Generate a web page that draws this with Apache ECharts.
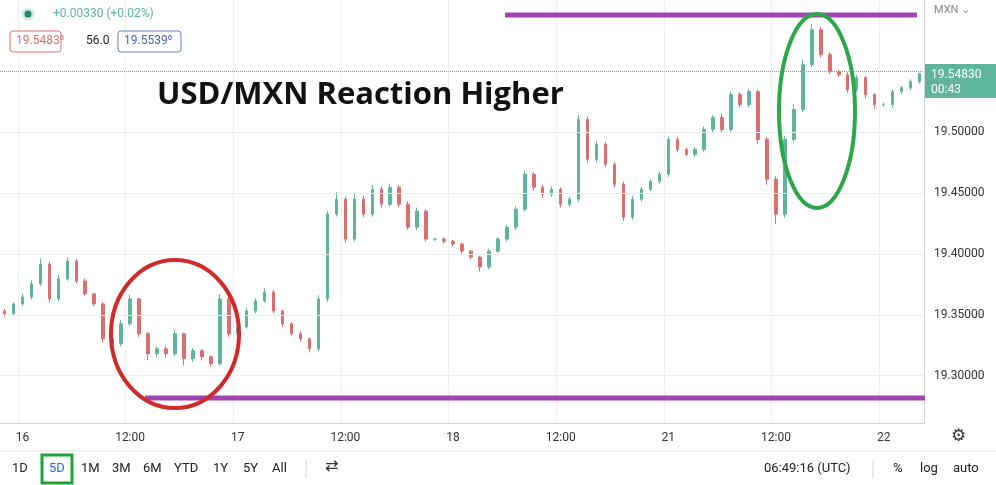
<!DOCTYPE html>
<html>
<head>
<meta charset="utf-8">
<title>USD/MXN</title>
<script src="https://cdn.jsdelivr.net/npm/echarts@6/dist/echarts.min.js"></script>
<style>
html,body{margin:0;padding:0;background:#fff;}
#main{width:996px;height:485px;}
</style>
</head>
<body>
<div id="main"></div>
<script>
// hourly candles, 15 22:00 -> 22 05:00
var closes = [19.3508,19.3590,19.3647,19.3754,19.3918,19.3631,19.3795,19.3942,19.3778,19.3672,
  19.3590,19.3303,19.3262,19.3426,19.3631,19.3344,19.3180,19.3221,19.3180,19.3344,
  19.3139,19.3204,19.3155,19.3098,19.3631,19.3344,19.3401,19.3532,19.3614,19.3688,
  19.3532,19.3426,19.3344,19.3303,19.3221,19.3631,19.4328,19.4451,19.4123,19.4451,
  19.4328,19.4533,19.4410,19.4549,19.4410,19.4221,19.4352,19.4123,19.4123,19.4106,
  19.4082,19.4024,19.3975,19.3893,19.4024,19.4123,19.4221,19.4369,19.4656,19.4549,
  19.4492,19.4533,19.4410,19.4451,19.5107,19.4779,19.4902,19.4738,19.4574,19.4303,
  19.4451,19.4533,19.4598,19.4656,19.4943,19.4861,19.4820,19.4861,19.5025,19.5123,
  19.5025,19.5312,19.5230,19.5336,19.4943,19.4615,19.4328,19.4943,19.5189,19.5558,
  19.5845,19.5640,19.5500,19.5476,19.5353,19.5451,19.5312,19.5230,19.5230,19.5336,
  19.5369,19.5418,19.5483];
// wick sizes in pips above / below the body
var wickUp = [20,15,25,30,40,20,35,30,15,20, 10,15,20,30,35,10,15,20,25,30, 10,20,15,10,40,15,20,25,20,30,
  15,10,15,20,10,30,25,60,20,45, 30,35,25,30,20,25,30,15,10,15, 10,15,10,10,20,15,20,25,30,20,
  20,25,15,20,35,25,30,20,15,20, 25,20,15,20,25,20,15,20,25,20, 30,25,20,20,15,20,25,30,45,40,
  45,25,20,15,20,20,15,10,15,20, 15,20,10];
var wickDn = [25,20,15,20,15,30,20,15,20,15, 20,30,25,20,15,25,55,30,35,20, 55,25,30,25,20,25,20,15,20,15,
  20,25,20,25,30,20,25,20,30,20, 25,20,30,20,25,20,25,20,15,20, 20,25,20,35,20,15,20,25,20,25,
  30,20,25,20,20,30,25,20,25,30, 20,20,15,20,20,25,15,20,20,20, 25,20,25,25,40,45,80,30,25,20,
  20,25,20,20,25,20,30,35,20,25, 20,20,15];
var labels = {2:'16',14:'12:00',26:'17',38:'12:00',50:'18',62:'12:00',74:'21',86:'12:00',98:'22'};
var yTicks = [19.30,19.35,19.40,19.45,19.50];

var cats = [], ohlc = [];
for (var i = 0; i < closes.length; i++) {
  cats.push('b' + i);
  var o = i === 0 ? 19.3530 : closes[i - 1];
  var c = closes[i];
  ohlc.push([o, c, Math.min(o, c) - wickDn[i] / 10000, Math.max(o, c) + wickUp[i] / 10000]);
}
function isLab(idx){ return labels[idx] !== undefined; }

var grid = {color: '#eceef2', type: 'solid', width: 1};
var chart = echarts.init(document.getElementById('main'));
chart.setOption({
  animation: false,
  grid: {left: 0, right: 72, top: 0, bottom: 62},
  xAxis: {
    type: 'category', data: cats, boundaryGap: true,
    axisLine: {lineStyle: {color: '#d0d3db'}},
    axisTick: {show: false},
    axisLabel: {interval: function(idx){ return isLab(idx); }, formatter: function(v, idx){ return labels[idx] || ''; },
      color: '#333', fontFamily: 'Roboto', fontSize: 12, margin: 9},
    splitLine: {show: true, interval: function(idx){ return isLab(idx); }, lineStyle: {color: '#eceef2'}}
  },
  yAxis: {
    type: 'value', position: 'right', min: 19.261, max: 19.609, scale: true,
    axisLine: {show: true, lineStyle: {color: '#d0d3db'}},
    axisTick: {show: false},
    axisLabel: {customValues: yTicks, formatter: function(v){ return v.toFixed(5); },
      color: '#333', fontFamily: 'Roboto', fontSize: 12, margin: 10},
    splitLine: {show: false}
  },
  series: [{
    type: 'candlestick', data: ohlc, barWidth: 3,
    itemStyle: {color: '#5fb49c', color0: '#d9706f', borderColor: '#5fb49c', borderColor0: '#d9706f'},
    markLine: {
      silent: true, symbol: 'none', label: {show: false},
      data: [
        {yAxis: 19.30, lineStyle: grid},
        {yAxis: 19.35, lineStyle: grid},
        {yAxis: 19.40, lineStyle: grid},
        {yAxis: 19.45, lineStyle: grid},
        {yAxis: 19.50, lineStyle: grid},
        {yAxis: 19.5483, lineStyle: {color: '#5fb49c', type: 'dotted', width: 1}}
      ]
    },
    z: 3
  }],
  graphic: [
    {type: 'text', left: 157, top: 80, style: {text: 'USD/MXN Reaction Higher', font: 'bold 31px "Open Sans"', fill: '#111'}, z: 10},
    // horizontal levels
    {type: 'line', shape: {x1: 505, y1: 15, x2: 917, y2: 15}, style: {stroke: '#a043b3', lineWidth: 5}, z: 10},
    {type: 'line', shape: {x1: 145, y1: 398, x2: 925, y2: 398}, style: {stroke: '#a043b3', lineWidth: 5}, z: 10},
    {type: 'ellipse', shape: {cx: 175, cy: 334, rx: 64, ry: 74}, style: {stroke: '#d02a2a', lineWidth: 4, fill: 'none'}, z: 10},
    {type: 'ellipse', shape: {cx: 817, cy: 111, rx: 38, ry: 97}, style: {stroke: '#2ca84a', lineWidth: 4, fill: 'none'}, z: 10},
    // price tag on axis
    {type: 'rect', shape: {x: 925, y: 64, width: 71, height: 34}, style: {fill: '#5fb49c'}, z: 10},
    {type: 'text', left: 931, top: 67, style: {text: '19.54830\n00:43', font: '12px Roboto', fill: '#fff', lineHeight: 15}, z: 11},
    {type: 'text', left: 934, top: 5, style: {text: 'MXN ⌄', font: '11px Roboto', fill: '#888'}, z: 10},
    // legend top-left
    {type: 'circle', shape: {cx: 28, cy: 14, r: 5}, style: {fill: '#26866f', stroke: '#c8eee3', lineWidth: 3}, z: 10},
    {type: 'text', left: 53, top: 8, style: {text: '+0.00330 (+0.02%)', font: '12px Roboto', fill: '#5fb49c'}, z: 10},
    {type: 'rect', shape: {x: 10, y: 31, width: 51, height: 21, r: 3}, style: {fill: '#fff', stroke: '#d9706f', lineWidth: 1}, z: 10},
    {type: 'text', left: 16, top: 35, style: {text: '19.5483⁰', font: '12px Roboto', fill: '#d9706f'}, z: 11},
    {type: 'text', left: 86, top: 35, style: {text: '56.0', font: '12px Roboto', fill: '#222'}, z: 10},
    {type: 'rect', shape: {x: 118, y: 31, width: 63, height: 21, r: 3}, style: {fill: '#fff', stroke: '#6a7fc8', lineWidth: 1}, z: 10},
    {type: 'text', left: 124, top: 35, style: {text: '19.5539⁰', font: '12px Roboto', fill: '#4a5fb8'}, z: 11},
    // bottom toolbar
    {type: 'line', shape: {x1: 0, y1: 451, x2: 996, y2: 451}, style: {stroke: '#e0e3eb', lineWidth: 1}},
    {type: 'text', left: 951, top: 428, style: {text: '⚙', font: '17px "DejaVu Sans"', fill: '#333'}},
    {type: 'rect', shape: {x: 42, y: 455, width: 30, height: 28}, style: {fill: '#fff', stroke: '#1fa33a', lineWidth: 3}},
    {type: 'text', left: 12, top: 462, style: {text: '1D', font: '13px Roboto', fill: '#222'}},
    {type: 'text', left: 49, top: 462, style: {text: '5D', font: '13px Roboto', fill: '#2962ff'}},
    {type: 'text', left: 81, top: 462, style: {text: '1M', font: '13px Roboto', fill: '#222'}},
    {type: 'text', left: 112, top: 462, style: {text: '3M', font: '13px Roboto', fill: '#222'}},
    {type: 'text', left: 143, top: 462, style: {text: '6M', font: '13px Roboto', fill: '#222'}},
    {type: 'text', left: 174, top: 462, style: {text: 'YTD', font: '13px Roboto', fill: '#222'}},
    {type: 'text', left: 213, top: 462, style: {text: '1Y', font: '13px Roboto', fill: '#222'}},
    {type: 'text', left: 243, top: 462, style: {text: '5Y', font: '13px Roboto', fill: '#222'}},
    {type: 'text', left: 272, top: 462, style: {text: 'All', font: '13px Roboto', fill: '#222'}},
    {type: 'line', shape: {x1: 306, y1: 460, x2: 306, y2: 478}, style: {stroke: '#d0d3db'}},
    {type: 'text', left: 325, top: 459, style: {text: '⇄', font: '16px "DejaVu Sans"', fill: '#333'}},
    {type: 'text', left: 764, top: 462, style: {text: '06:49:16 (UTC)', font: '13px Roboto', fill: '#222'}},
    {type: 'line', shape: {x1: 873, y1: 460, x2: 873, y2: 478}, style: {stroke: '#d0d3db'}},
    {type: 'text', left: 893, top: 462, style: {text: '%', font: '13px Roboto', fill: '#222'}},
    {type: 'text', left: 920, top: 462, style: {text: 'log', font: '13px Roboto', fill: '#222'}},
    {type: 'text', left: 953, top: 462, style: {text: 'auto', font: '13px Roboto', fill: '#222'}}
  ]
});
</script>
</body>
</html>
